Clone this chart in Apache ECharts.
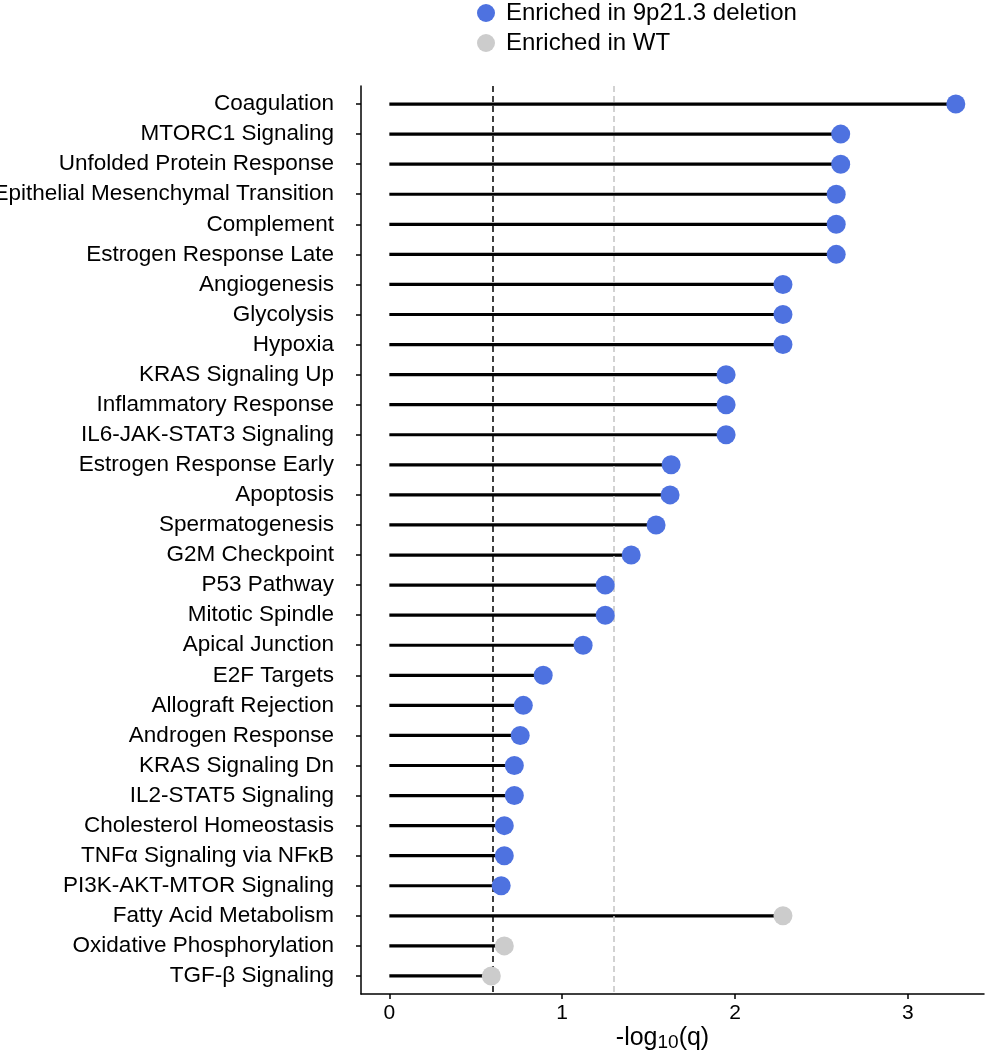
<!DOCTYPE html>
<html><head><meta charset="utf-8">
<script src="https://cdn.jsdelivr.net/npm/echarts@6/dist/echarts.min.js"></script>
<style>html,body{margin:0;padding:0;background:#fff}#c{width:985px;height:1050px}</style>
</head><body><div id="c"></div>
<script>
const categories = ["Coagulation","MTORC1 Signaling","Unfolded Protein Response","Epithelial Mesenchymal Transition","Complement","Estrogen Response Late","Angiogenesis","Glycolysis","Hypoxia","KRAS Signaling Up","Inflammatory Response","IL6-JAK-STAT3 Signaling","Estrogen Response Early","Apoptosis","Spermatogenesis","G2M Checkpoint","P53 Pathway","Mitotic Spindle","Apical Junction","E2F Targets","Allograft Rejection","Androgen Response","KRAS Signaling Dn","IL2-STAT5 Signaling","Cholesterol Homeostasis","TNF\u03b1 Signaling via NF\u03baB","PI3K-AKT-MTOR Signaling","Fatty Acid Metabolism","Oxidative Phosphorylation","TGF-\u03b2 Signaling"];
const values = [3.277,2.611,2.611,2.585,2.585,2.585,2.277,2.277,2.277,1.948,1.948,1.948,1.630,1.624,1.543,1.399,1.249,1.249,1.121,0.890,0.775,0.757,0.723,0.723,0.665,0.665,0.647,2.277,0.665,0.590];
const groups = ["del","del","del","del","del","del","del","del","del","del","del","del","del","del","del","del","del","del","del","del","del","del","del","del","del","del","del","wt","wt","wt"];
const groupNames = {del:"Enriched in 9p21.3 deletion", wt:"Enriched in WT"};
const xTicks = [0,1,2,3];
const thresholds = [0.602, 1.301];

const rowIdx = categories.map((c,i)=>i+1);
const segData = values.map((v,i)=>[v, i+1]);
const delData = values.map((v,i)=>groups[i]==="del"?[v,i+1]:null).filter(d=>d);
const wtData = values.map((v,i)=>groups[i]==="wt"?[v,i+1]:null).filter(d=>d);
const FONT = "'Liberation Sans', Arial, sans-serif";

const chart = echarts.init(document.getElementById('c'), null, {renderer:'canvas'});
chart.setOption({
  animation:false,
  backgroundColor:'#fff',
  grid:{left:361, right:1, top:86, bottom:56, containLabel:false, outerBoundsMode:'none'},
  legend:{
    data:[groupNames.del, groupNames.wt],
    orient:'vertical', left:472, top:-4,
    itemWidth:18, itemHeight:18, itemGap:6, icon:'circle',
    textStyle:{fontFamily:FONT, fontSize:24, color:'#000', padding:[0,0,0,6]}
  },
  xAxis:{
    type:'value', min:-0.164, max:3.44,
    axisLine:{show:true, onZero:false, lineStyle:{color:'#000', width:1.5}},
    axisTick:{show:true, length:5, lineStyle:{color:'#000', width:1.5}, customValues:xTicks},
    axisLabel:{fontFamily:FONT, fontSize:21, color:'#000', margin:9, customValues:xTicks},
    splitLine:{show:false},
    name:'-log{sub|10}(q)', nameLocation:'middle', nameGap:30, nameMoveOverlap:false,
    nameTextStyle:{fontFamily:FONT, fontSize:25, color:'#000', padding:[0,20,0,0],
      rich:{sub:{fontFamily:FONT, fontSize:19, color:'#000', padding:[9,0,0,0]}}}
  },
  yAxis:{
    type:'value', inverse:true, min:0.4, max:30.6,
    axisLine:{show:true, onZero:false, lineStyle:{color:'#000', width:1.5}},
    axisTick:{show:true, length:5, lineStyle:{color:'#000', width:1.5}, customValues:rowIdx},
    axisLabel:{fontFamily:FONT, fontSize:22.5, color:'#000', margin:27, customValues:rowIdx,
      formatter:(v)=>categories[Math.round(v)-1] || ''},
    splitLine:{show:false}
  },
  series:[
    {
      type:'custom', name:'seg', data:segData, z:2,
      renderItem:(params, api)=>{
        const p0 = api.coord([0, api.value(1)]);
        const p1 = api.coord([api.value(0), api.value(1)]);
        return {type:'line', shape:{x1:p0[0], y1:p0[1], x2:p1[0], y2:p1[1]},
          style:{stroke:'#000', lineWidth:3.2}};
      },
      markLine:{
        silent:true, symbol:'none', label:{show:false},
        data:[
          {xAxis:thresholds[0], lineStyle:{color:'#000', type:[6,4], width:1.5}},
          {xAxis:thresholds[1], lineStyle:{color:'#c4c4c4', type:[6,4], width:1.5}}
        ]
      }
    },
    {type:'scatter', name:groupNames.del, data:delData, symbolSize:19, z:5,
      itemStyle:{color:'#4E72E0', opacity:1}},
    {type:'scatter', name:groupNames.wt, data:wtData, symbolSize:19, z:5,
      itemStyle:{color:'#cccccc', opacity:1}}
  ]
});
</script></body></html>
